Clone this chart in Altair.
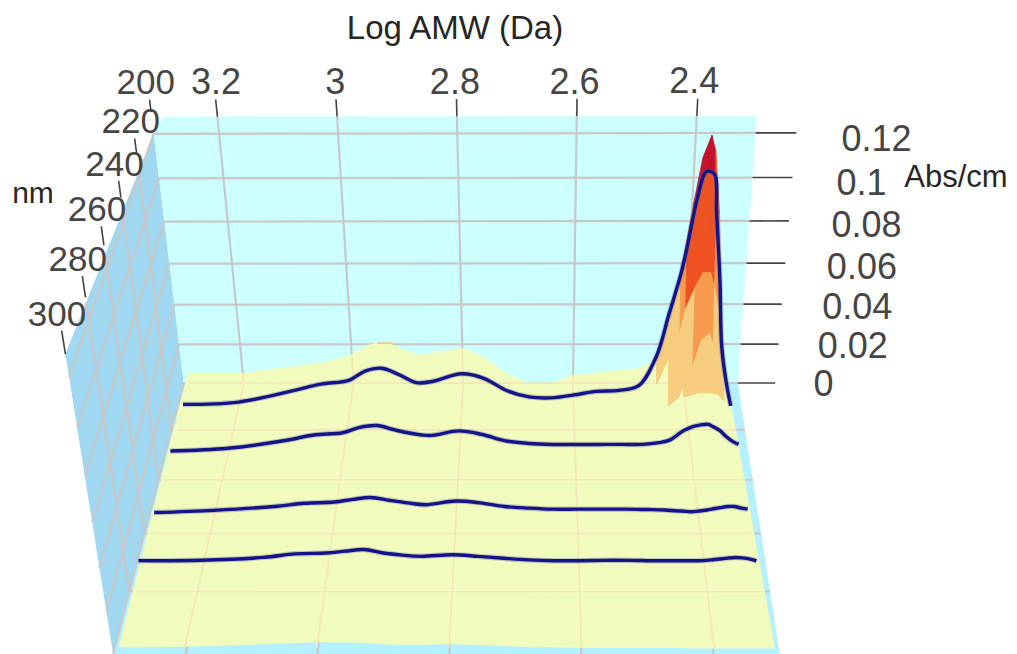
import numpy as np
import pandas as pd
import altair as alt

# ---------- data (Log AMW, nm, Abs/cm) ----------
log_amw = [3.30,3.20,3.10,3.05,3.00,2.97,2.94,2.91,2.88,2.85,2.80,2.76,2.72,2.68,2.64,2.60,2.56,2.52,
           2.485,2.456,2.437,2.42,2.412,2.398,2.386,2.373,2.365,2.352,2.342,2.329,2.319]
abs_200 = [.0053,.0053,.0091,.011,.0149,.0197,.0216,.0178,.0146,.0158,.0182,.0134,.0048,0,0,.0043,.0053,.0067,
           .0077,.011,.025,.044,.058,.087,.109,.119,.112,.083,.047,.012,0]
abs_210 = [.0009,.0021,.008,.0113,.0132,.0179,.0193,.016,.012,.0127,.0165,.0142,.008,.0047,.0042,.0057,.0075,.008,
           .0104,.025,.046,.065,.077,.101,.112,.111,.093,.061,.03,.011,0]
abs_230 = [.0017,.0031,.007,.0098,.0109,.0136,.0145,.0123,.0105,.0095,.0118,.01,.0068,.0055,.005,.005,.005,.005,
           .005,.0059,.0073,.0109,.0123,.014,.0148,.015,.0139,.0118,.0091,.0064,.005]
abs_254 = [.0022,.0033,.0052,.0068,.0074,.0087,.0096,.0083,.007,.0061,.0079,.007,.0052,.0044,.0039,.0039,.0039,.0039,
           .0037,.0035,.0031,.0028,.0026,.003,.0035,.0042,.0046,.0052,.0052,.0044,.0039]
abs_275 = [.0063,.0065,.0079,.0096,.01,.0109,.0117,.01,.009,.0084,.0092,.0084,.0075,.0067,.0063,.0063,.0065,.0065,
           .0063,.0063,.0063,.0063,.0063,.0065,.0069,.0073,.0076,.0079,.0077,.0071,.0063]
abs_300 = [.0032,.0035,.0045,.005,.0056,.0056,.0056,.005,.0045,.0045,.0048,.0045,.004,.0035,.0032,.003,.003,.003,
           .003,.003,.0028,.0028,.0028,.0028,.0028,.0028,.0028,.0028,.0028,.0028,.0028]
# absorbance peak, finer in wavelength (last 13 Log AMW values)
peak_rows = {
    200: abs_200[-13:],
    205: [.009,.018,.036,.054,.07,.096,.114,.113,.098,.07,.037,.012,0],
    210: abs_210[-13:],
    215: [.009,.017,.03,.043,.054,.064,.071,.071,.064,.05,.026,.01,.002],
    220: [.006,.009,.012,.016,.022,.032,.044,.048,.042,.032,.02,.01,.003],
    222: [.006,.008,.011,.014,.019,.02,.021,.021,.021,.02,.017,.009,.003],
    225: [.005,.006,.007,.008,.009,.011,.013,.014,.014,.013,.011,.008,.004],
    230: abs_230[-13:],
}
curves = {210: abs_210, 230: abs_230, 254: abs_254, 274: abs_275}
amw_ticks = [3.2, 3.0, 2.8, 2.6, 2.4]
amw_labels = ["3.2", "3", "2.8", "2.6", "2.4"]
nm_ticks = [200, 220, 240, 260, 280, 300]
abs_ticks = [0, .02, .04, .06, .08, .1, .12]
abs_labels = ["0", "0.02", "0.04", "0.06", "0.08", "0.1", "0.12"]
band_limits = [.1, .095, .07, .05, .018]
band_colors = ["#c4102c", "#d63a20", "#ee5222", "#f79a4e", "#f6cd7e"]

# ---------- camera: Log AMW / nm / Abs to page position ----------
calib_world = [(3.31,200,0),(3.2,200,0),(2.4,200,0),(2.30,200,0),(3.31,300,0),(3.2,300,0),(2.4,300,0),(2.30,300,0),
               (3.31,200,.12),(3.2,200,.12),(2.4,200,.12),(2.30,200,.12),(3.31,300,.12),
               (3.31,250,0),(2.30,250,0),(3.31,200,.06),(2.30,200,.06)]
calib_page = [(183,383),(245,383),(682,383),(737,383),(112,654),(189,654),(709,654),(783,654),
              (153,135),(222,133),(692,133),(758,133),(68,377),
              (150.5,507),(758,507),(168,263),(748,263)]

def norm(m, n, a):
    return [m - 2.8, (n - 250) / 50, a / .06, 1.0]

rows = []
for w, p in zip(calib_world, calib_page):
    W = norm(*w)
    u, v = p[0] / 500, p[1] / 500
    rows.append(W + [0, 0, 0, 0] + [-u * c for c in W])
    rows.append([0, 0, 0, 0] + W + [-v * c for c in W])
P = np.linalg.svd(np.array(rows))[2][-1].reshape(3, 4)

def proj(m, n, a):
    h = P @ np.array(norm(m, n, a))
    return float(h[0] / h[2] * 500), float(h[1] / h[2] * 500)

# ---------- helpers ----------
X = alt.X("x:Q", scale=alt.Scale(domain=[8, 1009]), axis=None)
Y = alt.Y("y:Q", scale=alt.Scale(domain=[654, 8]), axis=None)

def to_area(outline, ident, color):
    pts = outline + [outline[0]]
    out = []
    for xv in sorted({p[0] for p in outline}):
        ys = []
        for (x0, y0), (x1, y1) in zip(pts[:-1], pts[1:]):
            if min(x0, x1) <= xv <= max(x0, x1):
                if x0 == x1:
                    ys += [y0, y1]
                else:
                    ys.append(y0 + (y1 - y0) * (xv - x0) / (x1 - x0))
        out.append(dict(x=xv, y=min(ys), y2=max(ys), id=ident, c=color))
    return out

def area_layer(records, stroke=0):
    return alt.Chart(pd.DataFrame(records)).mark_area(clip=True, strokeWidth=stroke).encode(
        x=X, y=Y, y2="y2:Q", detail="id:N",
        color=alt.Color("c:N", scale=None), stroke=alt.Stroke("c:N", scale=None))

def line_layer(paths, color, width, opacity=1, interp="linear"):
    recs = []
    for j, path in enumerate(paths):
        for i, (x, y) in enumerate(path):
            recs.append(dict(x=x, y=y, id=j, i=i))
    return alt.Chart(pd.DataFrame(recs)).mark_line(
        color=color, strokeWidth=width, opacity=opacity, interpolate=interp, clip=True
    ).encode(x=X, y=Y, detail="id:N", order="i:Q")

def text_layer(xs, ys, labels, size, color, align="center"):
    df = pd.DataFrame(dict(x=xs, y=ys, t=labels))
    return alt.Chart(df).mark_text(fontSize=size, font="Liberation Sans", color=color, align=align,
                                   baseline="middle").encode(x=X, y=Y, text="t:N")

M0, M1, ATOP = 3.31, 2.30, .1275
GREY, DARK, BEIGE = "#c8c8c8", "#444444", "#f4e6b8"

# ---------- walls and floor ----------
wall = to_area([proj(3.29,200,ATOP), proj(M1,200,ATOP), proj(M1,200,0), proj(M0,200,0), proj(M0,200,.12)], "wall", "#ccffff")
side = to_area([proj(M0,200,.12), proj(M0,200,0), proj(M0,300,0), proj(M0,300,.129)], "side", "#9fd8f0")
floor = to_area([proj(M0,200,0), proj(M1,200,0), proj(M1,300,0), proj(M0,300,0)], "floor", "#b4f0ff")

def edge_top(n):
    return .12 + .009 * (n - 200) / 100

grid_paths = []
for a in abs_ticks:
    grid_paths.append([proj(M0,300,a), proj(M0,200,a), proj(M1,200,a)])
for n in nm_ticks[1:-1]:
    grid_paths.append([proj(M0,n,edge_top(n)), proj(M0,n,0), proj(M1,n,0)])
for m in amw_ticks:
    grid_paths.append([proj(m,200,ATOP), proj(m,200,0), proj(m,300,0)])

# ---------- pale surface ----------
back = [proj(m,200,a) for m, a in zip(log_amw, abs_200)]
front = [proj(m,300,a) for m, a in zip(log_amw, abs_300)]
surface = to_area(back + [proj(2.308,300,.0028)] + front[::-1], "surface", "#f1fbbd")

surf_paths = [[proj(3.30,n,0), proj(2.315,n,0)] for n in nm_ticks[:-1]]
rev_m, rev_a = log_amw[::-1], abs_200[::-1]
for m in amw_ticks:
    surf_paths.append([proj(m,200,float(np.interp(m, rev_m, rev_a))), proj(m,200,0), proj(m,300,.003)])

# ---------- coloured peak ----------
peak_m = log_amw[-13:]
peak_nm = list(peak_rows)
peak_layers = []
for s, (n0, n1) in enumerate(zip(peak_nm[:-1], peak_nm[1:])):
    recs = []
    for i in range(12):
        corners = [(peak_m[i],n0,peak_rows[n0][i]), (peak_m[i+1],n0,peak_rows[n0][i+1]),
                   (peak_m[i+1],n1,peak_rows[n1][i+1]), (peak_m[i],n1,peak_rows[n1][i])]
        mean = sum(c[2] for c in corners) / 4
        col = next((c for lim, c in zip(band_limits, band_colors) if mean >= lim), None)
        if col:
            recs += to_area([proj(*c) for c in corners], f"{s}-{i}", col)
    if recs:
        peak_layers.append(area_layer(recs, .8))

bump_path = [[proj(2.953,200,.0207), proj(2.925,200,.0207)]]

# ---------- spectra ----------
curve_paths = [[proj(m,n,a) for m, a in zip(log_amw, vals)] for n, vals in curves.items()]

# ---------- ticks and labels ----------
tick_paths = [[proj(m,200,ATOP), proj(m,200,.135)] for m in amw_ticks]
tick_paths += [[proj(M1,200,a), proj(2.232,200,a)] for a in abs_ticks]
tick_paths += [[proj(M0,n,.1295 - .0005*(n-200)/100), proj(M0,n,.135 + .003*(n-200)/100)] for n in nm_ticks]

amw_pos = [proj(m - .003 + .0125*(3.2-m),200,.142) for m in amw_ticks]
abs_pos = [proj(2.1625 - .05*a,200,a) for a in abs_ticks]
nm_pos = [proj(M0 + .003,n,.142 + .002*(n-200)/100) for n in nm_ticks]

def title(xp, yp, txt, size):
    df = pd.DataFrame(dict(x=[xp], y=[yp], t=[txt]))
    return alt.Chart(df).mark_text(fontSize=size, font="Liberation Sans", color="#262626", baseline="middle").encode(x=X, y=Y, text="t:N")

layers = [
    area_layer(wall), area_layer(floor), area_layer(side),
    line_layer(grid_paths, GREY, 2.2),
    area_layer(surface),
    line_layer(surf_paths, BEIGE, 1.6),
    *peak_layers,
    line_layer(bump_path, "#f6cd7e", 2),
    line_layer(curve_paths, "#6a6a9a", 5.5, .35, "catmull-rom"),
    line_layer(curve_paths, "#14148a", 3.4, 1, "catmull-rom"),
    line_layer(tick_paths, DARK, 1.6),
    text_layer([p[0] for p in amw_pos], [p[1] for p in amw_pos], amw_labels, 36, "#454545"),
    text_layer([p[0] for p in abs_pos], [p[1] + 2 + 42*a for p, a in zip(abs_pos, abs_ticks)], abs_labels, 36, "#454545", "left"),
    text_layer([p[0] for p in nm_pos], [p[1] for p in nm_pos], [str(n) for n in nm_ticks], 35, "#454545"),
    title(455, 29, "Log AMW (Da)", 33),
    title(33, 194, "nm", 30),
    title(956, 178, "Abs/cm", 31),
]

chart = alt.layer(*layers).properties(
    width=1001, height=646, padding=0, autosize=alt.AutoSizeParams(type="none")
).configure_view(stroke=None)

chart.save("out.html", embed_options={"renderer": "svg", "actions": False})
